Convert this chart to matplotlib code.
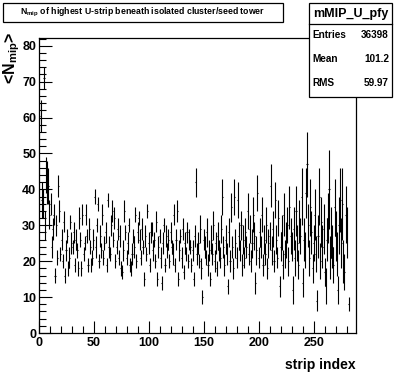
import numpy as np
import matplotlib
matplotlib.use("Agg")
import matplotlib.pyplot as plt
from matplotlib.patches import Rectangle
from matplotlib.ticker import MultipleLocator

# profile of <N_mip> per strip (bins 0..281), None = empty bin
mean_nmip = [
    None, 60.5, 37, 36, 71, 30, 44, 42, 41, 33,
    36, 24, 29, 33, 16, 30, 21, 41, 34, 22,
    26, 20, 31, 16, 23, 27, 18, 21, 31, 25,
    24, 28, 19, 26, 23, 18, 32, 26, 18, 33,
    22, 25, 33, 27, 19, 29, 24, 19, 21, 26,
    38, 24, 30, 36, 20, 27, 23, 33, 21, 25,
    28, 19, 37, 24, 22, 30, 34, 26, 32, 20,
    24, 29, 21, 27, 18, 17, 23, 34, 28, 21,
    25, 30, 19, 18, 22, 27, 24, 33, 20, 28,
    32, 26, 21, 29, 24, 15, 27, 22, 34, 25,
    19, 28, 29, 23, 26, 20, 31, 15, 24, 27,
    21, 14, 25, 30, 19, 27, 23, 26, 20, 28,
    24, 22, 33, 19, 26, 34, 15, 23, 27, 21,
    29, 17, 25, 22, 28, 20, 26, 24, 19, 23,
    15, 27, 42, 22, 25, 20, 29, 18, 10, 26,
    24, 21, 28, 19, 23, 15, 26, 22, 30, 20,
    25, 18, 27, 23, 21, 29, 38, 24, 19, 26,
    22, 13, 28, 20, 35, 24, 18, 38, 25, 21,
    37, 27, 23, 30, 19, 26, 21, 28, 24, 34,
    22, 29, 20, 25, 33, 27, 14, 23, 39, 21,
    28, 24, 33, 19, 26, 22, 30, 18, 25, 27,
    41, 23, 29, 20, 37, 26, 21, 32, 13, 24,
    28, 19, 33, 22, 26, 30, 20, 35, 27, 24,
    12, 29, 21, 34, 25, 19, 31, 27, 38, 14,
    26, 23, 39, 47, 30, 21, 35, 28, 18, 25,
    33, 22, 9, 27, 38, 20, 31, 24, 29, 17,
    13, 26, 32, 40, 21, 28, 24, 19, 35, 27,
    22, 12, 30, 37, 25, 36, 20, 17, 33, 28,
    None, 8,
]
err_nmip = [
    0, 4.5, 5, 4, 3, 4, 5, 6, 5, 4,
    3, 3, 3, 3, 2, 3, 2, 3, 3, 2,
    3, 2, 3, 2, 3, 2, 2, 3, 2, 3,
    2, 3, 2, 3, 2, 2, 3, 2, 2, 3,
    2, 2, 3, 2, 2, 3, 2, 2, 2, 3,
    2, 3, 2, 2, 2, 3, 2, 3, 2, 2,
    3, 2, 2, 3, 2, 3, 3, 2, 3, 2,
    2, 3, 2, 3, 2, 2, 3, 3, 2, 2,
    3, 2, 2, 2, 3, 2, 3, 2, 2, 3,
    2, 3, 2, 3, 2, 2, 3, 2, 2, 3,
    2, 3, 2, 3, 2, 2, 3, 2, 3, 2,
    3, 2, 3, 2, 2, 3, 2, 3, 2, 3,
    2, 3, 3, 2, 3, 3, 2, 3, 2, 3,
    3, 2, 3, 2, 3, 2, 3, 2, 2, 3,
    2, 3, 4, 3, 3, 2, 4, 3, 2, 3,
    3, 2, 4, 3, 3, 2, 4, 3, 4, 3,
    3, 2, 4, 3, 3, 4, 5, 3, 3, 4,
    3, 2, 4, 3, 4, 3, 3, 5, 4, 3,
    5, 4, 3, 4, 3, 4, 3, 4, 3, 5,
    3, 4, 3, 4, 5, 4, 3, 4, 5, 3,
    4, 3, 5, 3, 4, 3, 5, 3, 4, 4,
    6, 4, 5, 3, 5, 4, 3, 5, 3, 4,
    5, 4, 6, 4, 5, 5, 4, 6, 5, 4,
    4, 6, 5, 7, 5, 4, 6, 5, 8, 4,
    6, 5, 7, 9, 6, 5, 8, 6, 4, 5,
    7, 5, 3, 6, 8, 5, 7, 6, 7, 4,
    5, 6, 7, 11, 6, 7, 6, 5, 8, 7,
    6, 4, 8, 9, 7, 10, 6, 5, 8, 7,
    0, 2,
]

title_text = r"N$_{\mathregular{mip}}$ of highest U-strip beneath isolated cluster/seed tower"
ylabel_text = r"<N$_{\mathregular{mip}}$>"
stats_name = "mMIP_U_pfy"
stats_labels = ["Entries", "Mean", "RMS"]
stats_values = ["36398", "101.2", "59.97"]

plt.rcParams["font.family"] = ["Liberation Sans", "DejaVu Sans"]
plt.rcParams["font.weight"] = "bold"
plt.rcParams["mathtext.default"] = "regular"

fig = plt.figure(figsize=(3.96, 3.72), dpi=100)
ax = fig.add_axes([39 / 396, 39 / 372, 317 / 396, 295.5 / 372])

strip = np.arange(len(mean_nmip)) + 0.5
ok = np.array([v is not None for v in mean_nmip])
yv = np.array([v if v is not None else 0 for v in mean_nmip], dtype=float)
ye = np.array(err_nmip, dtype=float)
ax.errorbar(strip[ok], yv[ok], yerr=ye[ok], xerr=0.5, fmt="none",
            ecolor="black", elinewidth=0.8, capsize=0)

ax.set_xlim(0, 288)
ax.set_ylim(0, 82.3)
ax.xaxis.set_major_locator(MultipleLocator(50))
ax.xaxis.set_minor_locator(MultipleLocator(10))
ax.yaxis.set_major_locator(MultipleLocator(10))
ax.yaxis.set_minor_locator(MultipleLocator(2))
ax.tick_params(which="both", direction="in", top=False, right=False,
               width=0.8, labelsize=9)
ax.tick_params(which="major", length=9)
ax.tick_params(which="minor", length=5)
ax.tick_params(axis="x", pad=3)
ax.tick_params(axis="y", pad=2)
for lab in ax.get_xticklabels() + ax.get_yticklabels():
    lab.set_fontweight("bold")
for sp in ax.spines.values():
    sp.set_linewidth(0.9)

ax.set_xlabel("strip index", fontsize=10, fontweight="bold")
ax.xaxis.set_label_coords(1.0, -0.085)
ax.xaxis.label.set_horizontalalignment("right")
fig.text(12 / 396, 1 - 32 / 372, ylabel_text, rotation=90, ha="center",
         va="top", fontsize=11.5, fontweight="bold")

# title box
fig.patches.append(Rectangle((3 / 396, 1 - 21.5 / 372), 280 / 396, 18.5 / 372,
                             transform=fig.transFigure, facecolor="white",
                             edgecolor="black", linewidth=0.9, zorder=5))
fig.text(143 / 396, 1 - 12 / 372, title_text, ha="center", va="center",
         fontsize=6.3, fontweight="bold", zorder=6)

# stats box
fig.patches.append(Rectangle((309 / 396, 1 - 96.5 / 372), 83 / 396, 93.5 / 372,
                             transform=fig.transFigure, facecolor="white",
                             edgecolor="black", linewidth=0.9, zorder=5))
fig.lines.append(plt.Line2D([309 / 396, 392 / 396], [1 - 24 / 372, 1 - 24 / 372],
                            transform=fig.transFigure, color="black",
                            linewidth=0.9, zorder=6))
fig.text(350.5 / 396, 1 - 14 / 372, stats_name, ha="center", va="center",
         fontsize=9, fontweight="bold", zorder=6)
for i, (lab, val) in enumerate(zip(stats_labels, stats_values)):
    yy = 1 - (35 + 24 * i) / 372
    fig.text(312 / 396, yy, lab, ha="left", va="center", fontsize=7.2,
             fontweight="bold", zorder=6)
    fig.text(389 / 396, yy, val, ha="right", va="center", fontsize=7.2,
             fontweight="bold", zorder=6)

fig.savefig("out.png", dpi=100)
